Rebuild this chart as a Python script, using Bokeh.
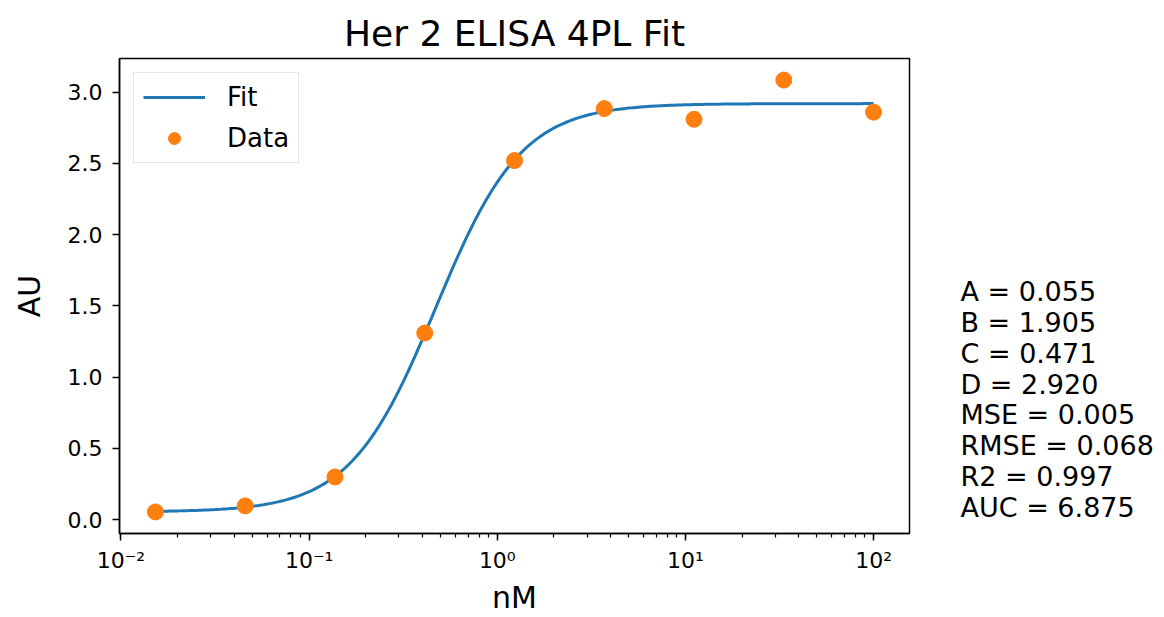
import numpy as np
from bokeh.plotting import figure
from bokeh.layouts import row
from bokeh.models import (Range1d, Legend, LegendItem, CustomJSTickFormatter,
                          SingleIntervalTicker, NumeralTickFormatter, LogTicker, ColumnDataSource)
from bokeh.core.properties import value
from bokeh.embed import file_html
from bokeh.resources import INLINE

# ---- data ----
conc_nM = [100.0, 33.33, 11.11, 3.704, 1.235, 0.4115, 0.1372, 0.04572, 0.01524]
au_values = [2.86, 3.085, 2.81, 2.885, 2.52, 1.31, 0.30, 0.097, 0.055]

# fitted 4PL parameters shown on the chart
fit_A = 0.055
fit_B = 1.905
fit_C = 0.471
fit_D = 2.920

stat_names = ["A", "B", "C", "D", "MSE", "RMSE", "R2", "AUC"]
stat_values = [0.055, 1.905, 0.471, 2.920, 0.005, 0.068, 0.997, 6.875]

title_text = "Her 2 ELISA 4PL Fit"
x_label = "nM"
y_label = "AU"

# ---- fit curve from the displayed parameters ----
xs = np.logspace(np.log10(min(conc_nM)), np.log10(max(conc_nM)), 300)
ys = fit_D + (fit_A - fit_D) / (1.0 + (xs / fit_C) ** fit_B)

# matplotlib-like auto limits (5% margins, log x)
lx0, lx1 = np.log10(min(conc_nM)), np.log10(max(conc_nM))
mx = 0.05 * (lx1 - lx0)
y0 = min(min(au_values), ys.min())
y1 = max(max(au_values), ys.max())
my = 0.05 * (y1 - y0)

FONT = "DejaVu Sans"
H = 617
TOP, BOTTOM = 58, 82

p = figure(width=920, height=H, x_axis_type="log",
           x_range=Range1d(10 ** (lx0 - mx), 10 ** (lx1 + mx)),
           y_range=Range1d(y0 - my, y1 + my),
           output_backend="svg", toolbar_location=None,
           min_border_left=119, min_border_right=11,
           min_border_top=TOP, min_border_bottom=BOTTOM,
           title=title_text)
p.background_fill_color = "white"
p.border_fill_color = "white"
p.outline_line_color = "black"
p.outline_line_width = 1.5
p.xgrid.visible = False
p.ygrid.visible = False

p.title.text_font = FONT
p.title.text_font_size = "36px"
p.title.text_font_style = "normal"
p.title.align = "center"
p.title.text_color = "black"

line_r = p.line(xs, ys, line_color="#1f77b4", line_width=3)
src = ColumnDataSource(dict(x=conc_nM, y=au_values))
dots = p.scatter("x", "y", source=src, size=16, fill_color="#ff7f0e", line_color="#ff7f0e")

# axes
xa = p.xaxis[0]
xa.ticker = LogTicker(num_minor_ticks=10)
xa.formatter = CustomJSTickFormatter(code="""
const sup = {"-":"\u207b","0":"\u2070","1":"\u00b9","2":"\u00b2","3":"\u00b3","4":"\u2074",
             "5":"\u2075","6":"\u2076","7":"\u2077","8":"\u2078","9":"\u2079"};
const e = Math.round(Math.log10(tick));
return "10" + String(e).split("").map(c => sup[c]).join("");
""")
ya = p.yaxis[0]
ya.ticker = SingleIntervalTicker(interval=0.5)
ya.formatter = NumeralTickFormatter(format="0.0")

for ax in (xa, ya):
    ax.axis_line_color = "black"
    ax.axis_line_width = 1.5
    ax.major_tick_line_color = "black"
    ax.major_tick_line_width = 1.5
    ax.minor_tick_line_color = "black"
    ax.minor_tick_line_width = 1.2
    ax.major_tick_in = 0
    ax.major_tick_out = 7
    ax.minor_tick_in = 0
    ax.minor_tick_out = 4
    ax.major_label_text_font = FONT
    ax.major_label_text_font_size = "22px"
    ax.major_label_text_color = "black"
    ax.axis_label_text_font = FONT
    ax.axis_label_text_font_size = "30px"
    ax.axis_label_text_font_style = "normal"
    ax.axis_label_text_color = "black"
ya.minor_tick_out = 0
xa.major_label_standoff = 7
ya.major_label_standoff = 10
xa.axis_label = x_label
ya.axis_label = y_label
xa.axis_label_standoff = 4
ya.axis_label_standoff = 18

legend = Legend(items=[LegendItem(label="Fit", renderers=[line_r]),
                       LegendItem(label="Data", renderers=[dots])],
                location="top_left")
legend.margin = 14
legend.padding = 9
legend.spacing = 11
legend.glyph_width = 62
legend.glyph_height = 30
legend.label_standoff = 22
legend.label_text_font = FONT
legend.label_text_font_size = "26px"
legend.label_text_color = "black"
legend.border_line_color = "#cccccc"
legend.border_line_width = 1.5
legend.background_fill_alpha = 0.8
p.add_layout(legend)

# ---- stats panel on the right (page-pixel ranges, frame aligned with main plot) ----
SW = 1164 - 920
s = figure(width=SW, height=H, x_range=Range1d(0, SW), y_range=Range1d(H - BOTTOM, TOP),
           output_backend="svg", toolbar_location=None,
           min_border_left=0, min_border_right=0, min_border_top=TOP, min_border_bottom=BOTTOM)
s.axis.visible = False
s.grid.visible = False
s.outline_line_color = None
s.background_fill_color = "white"
s.border_fill_color = "white"
stat_text = [f"{n} = {v:.3f}" for n, v in zip(stat_names, stat_values)]
stat_y = [292 + 31.0 * i for i in range(len(stat_text))]
s.text(x=[40] * len(stat_text), y=stat_y, text=stat_text,
       text_font=value(FONT), text_font_size="27px", text_color="black",
       text_baseline="alphabetic", text_align="left")

layout = row(p, s, spacing=0)
with open("out.html", "w", encoding="utf-8") as f:
    f.write(file_html(layout, INLINE))
